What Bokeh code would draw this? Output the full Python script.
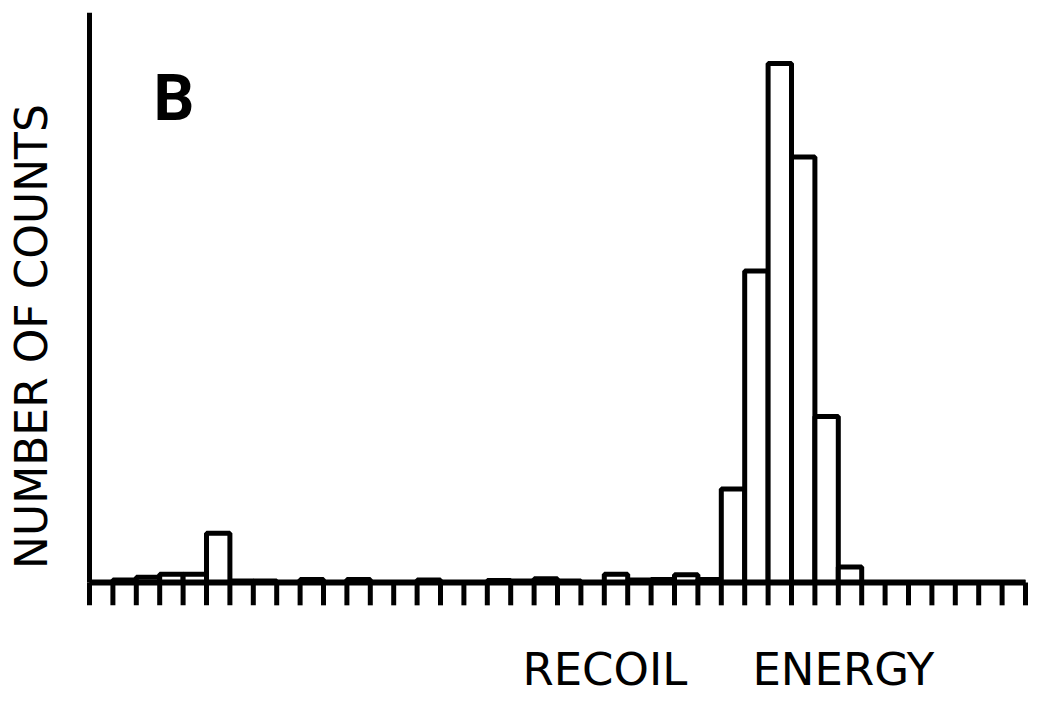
import math
from bokeh.plotting import figure
from bokeh.models import Range1d, Label, ColumnDataSource
from bokeh.embed import file_html
from bokeh.resources import INLINE

# ---- data (histogram, 40 bins, arbitrary count units, peak = 100) ----
bin_index = list(range(40))
counts = [0, 0.5, 1.0, 1.6, 1.6, 9.5, 0.3, 0.3, 0, 0.6,
          0, 0.6, 0, 0, 0.5, 0, 0, 0.4, 0.3, 0.7,
          0.3, 0, 1.6, 0.5, 0.6, 1.5, 0.6, 18, 60, 100,
          82, 32, 3, 0, 0, 0, 0, 0, 0, 0]
tick_positions = list(range(41))
y_axis_top = 109.8
tick_length = 4.4
panel_letter = "B"
x_title_words = ["RECOIL", "ENERGY"]
y_title = "NUMBER OF COUNTS"

# scales: 23.4 px per bin, 5.19 px per count unit; baseline 582 px from top
PX_X, PX_Y = 23.4, 5.19
X0, Y0 = 89, 582
W, H = 1038, 703

bars = ColumnDataSource(dict(
    left=bin_index,
    right=[i + 1 for i in bin_index],
    bottom=[0] * len(bin_index),
    top=counts,
))
ticks = ColumnDataSource(dict(
    x0=tick_positions, x1=tick_positions,
    y0=[0] * len(tick_positions), y1=[-tick_length] * len(tick_positions),
))

p = figure(width=W, height=H, output_backend="svg", toolbar_location=None,
           x_axis_location=None, y_axis_location=None,
           x_range=Range1d(-X0 / PX_X, (W - X0) / PX_X),
           y_range=Range1d(-(H - Y0) / PX_Y, Y0 / PX_Y),
           min_border=0, min_border_left=0, min_border_right=0,
           min_border_top=0, min_border_bottom=0)
p.background_fill_color = "white"
p.border_fill_color = "white"
p.outline_line_color = None
p.grid.visible = False

# histogram bars
p.quad(left="left", right="right", bottom="bottom", top="top", source=bars,
       fill_color="white", line_color="black", line_width=5)

# axes (drawn in data coordinates)
p.segment(x0="x0", x1="x1", y0="y0", y1="y1", source=ticks,
          line_color="black", line_width=5)
p.segment(x0=[tick_positions[0]], x1=[tick_positions[-1]], y0=[0], y1=[0],
          line_color="black", line_width=6)
p.segment(x0=[tick_positions[0]], x1=[tick_positions[0]], y0=[0], y1=[y_axis_top],
          line_color="black", line_width=5)

FONT = "DejaVu Sans"

p.add_layout(Label(x=2.73, y=93.2, text=panel_letter,
                   text_font="Roboto", text_font_style="bold",
                   text_font_size="64px", text_color="black",
                   text_align="left", text_baseline="middle"))

p.add_layout(Label(x=18.5, y=-16.67, text=x_title_words[0], text_font=FONT,
                   text_font_size="45px", text_color="black",
                   text_align="left", text_baseline="middle"))
p.add_layout(Label(x=28.33, y=-16.67, text=x_title_words[1], text_font=FONT,
                   text_font_size="45px", text_color="black",
                   text_align="left", text_baseline="middle"))

p.add_layout(Label(x=-2.5, y=47.4, text=y_title, text_font=FONT,
                   text_font_size="44px", text_color="black", angle=math.pi / 2,
                   text_align="center", text_baseline="middle"))

open("out.html", "w").write(file_html(p, INLINE))
